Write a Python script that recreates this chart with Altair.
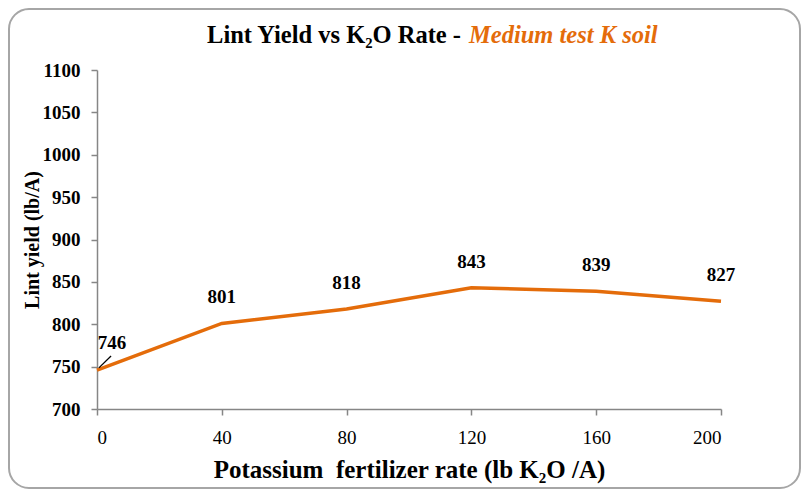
import altair as alt
import pandas as pd

# ---- data ----
rates = [0, 40, 80, 120, 160, 200]
yields = [746, 801, 818, 843, 839, 827]
x_ticks = [0, 40, 80, 120, 160, 200]
y_ticks = [700, 750, 800, 850, 900, 950, 1000, 1050, 1100]
leader_x = [0.6, 4.5]
leader_y = [748.5, 762.5]
title_main = "Lint Yield vs K\u2082O Rate -"
title_sub = "Medium test K soil"
x_title = "Potassium\u00a0 fertilizer rate (lb K\u2082O /A)"
y_title = "Lint yield (lb/A)"

FONT = "Liberation Serif"
ORANGE = "#E46C0A"
AXISGREY = "#868686"

W, H = 624, 339

df = pd.DataFrame({"rate": rates, "yield": yields})
xscale = alt.Scale(domain=[0, 200], nice=False, zero=False)
yscale = alt.Scale(domain=[700, 1100], nice=False, zero=False)

xenc = alt.X("rate:Q", scale=xscale,
             axis=alt.Axis(values=x_ticks, title=x_title, labelFontWeight="normal",
                           labelFontSize=19, labelPadding=13, titleFontSize=25,
                           titlePadding=10, format="d"))
yenc = alt.Y("yield:Q", scale=yscale,
             axis=alt.Axis(values=y_ticks, title=y_title, labelFontWeight="bold",
                           labelFontSize=19, labelPadding=11, titleFontSize=20,
                           titlePadding=0, format="d"))

base = alt.Chart(df)
line = base.mark_line(color=ORANGE, strokeWidth=3.5).encode(x=xenc, y=yenc)

labels = base.transform_filter("datum.rate > 0").mark_text(
    dy=-26, font=FONT, fontSize=19, fontWeight="bold", color="black"
).encode(x="rate:Q", y="yield:Q", text="yield:Q")

label0 = base.transform_filter("datum.rate == 0").mark_text(
    dx=15, dy=-27, font=FONT, fontSize=19, fontWeight="bold", color="black"
).encode(x="rate:Q", y="yield:Q", text="yield:Q")

leader_df = pd.DataFrame({"x": [leader_x[0]], "x2": [leader_x[1]],
                          "y": [leader_y[0]], "y2": [leader_y[1]]})
leader = alt.Chart(leader_df).mark_rule(color="black", strokeWidth=1.3).encode(
    x="x:Q", x2="x2:Q", y="y:Q", y2="y2:Q")

t1 = alt.Chart(pd.DataFrame({"t": [title_main]})).mark_text(
    align="right", baseline="alphabetic", font=FONT, fontSize=24.5,
    fontWeight="bold", color="black"
).encode(x=alt.value(364), y=alt.value(-27), text="t:N")

t2 = alt.Chart(pd.DataFrame({"t": [title_sub]})).mark_text(
    align="left", baseline="alphabetic", font=FONT, fontSize=24.5,
    fontWeight="bold", fontStyle="italic", color=ORANGE
).encode(x=alt.value(372), y=alt.value(-27), text="t:N")

border = alt.Chart(pd.DataFrame({"t": [0]})).mark_rect(
    fill="transparent", stroke="#A6A6A6", strokeWidth=2, cornerRadius=20
).encode(x=alt.value(-88), x2=alt.value(703), y=alt.value(-61), y2=alt.value(418))

chart = alt.layer(border, line, leader, labels, label0, t1, t2).properties(
    width=W, height=H,
    autosize=alt.AutoSizeParams(type="none"),
    padding={"left": 89, "top": 62, "right": 80, "bottom": 81},
).configure_view(stroke=None).configure_axis(
    grid=False, domainColor=AXISGREY, tickColor=AXISGREY, domainWidth=1.5,
    tickWidth=1.5, tickSize=6, labelFont=FONT, titleFont=FONT,
    labelColor="black", titleColor="black", titleFontWeight="bold",
)

chart.save("out.html", embed_options={"renderer": "svg", "actions": False})
